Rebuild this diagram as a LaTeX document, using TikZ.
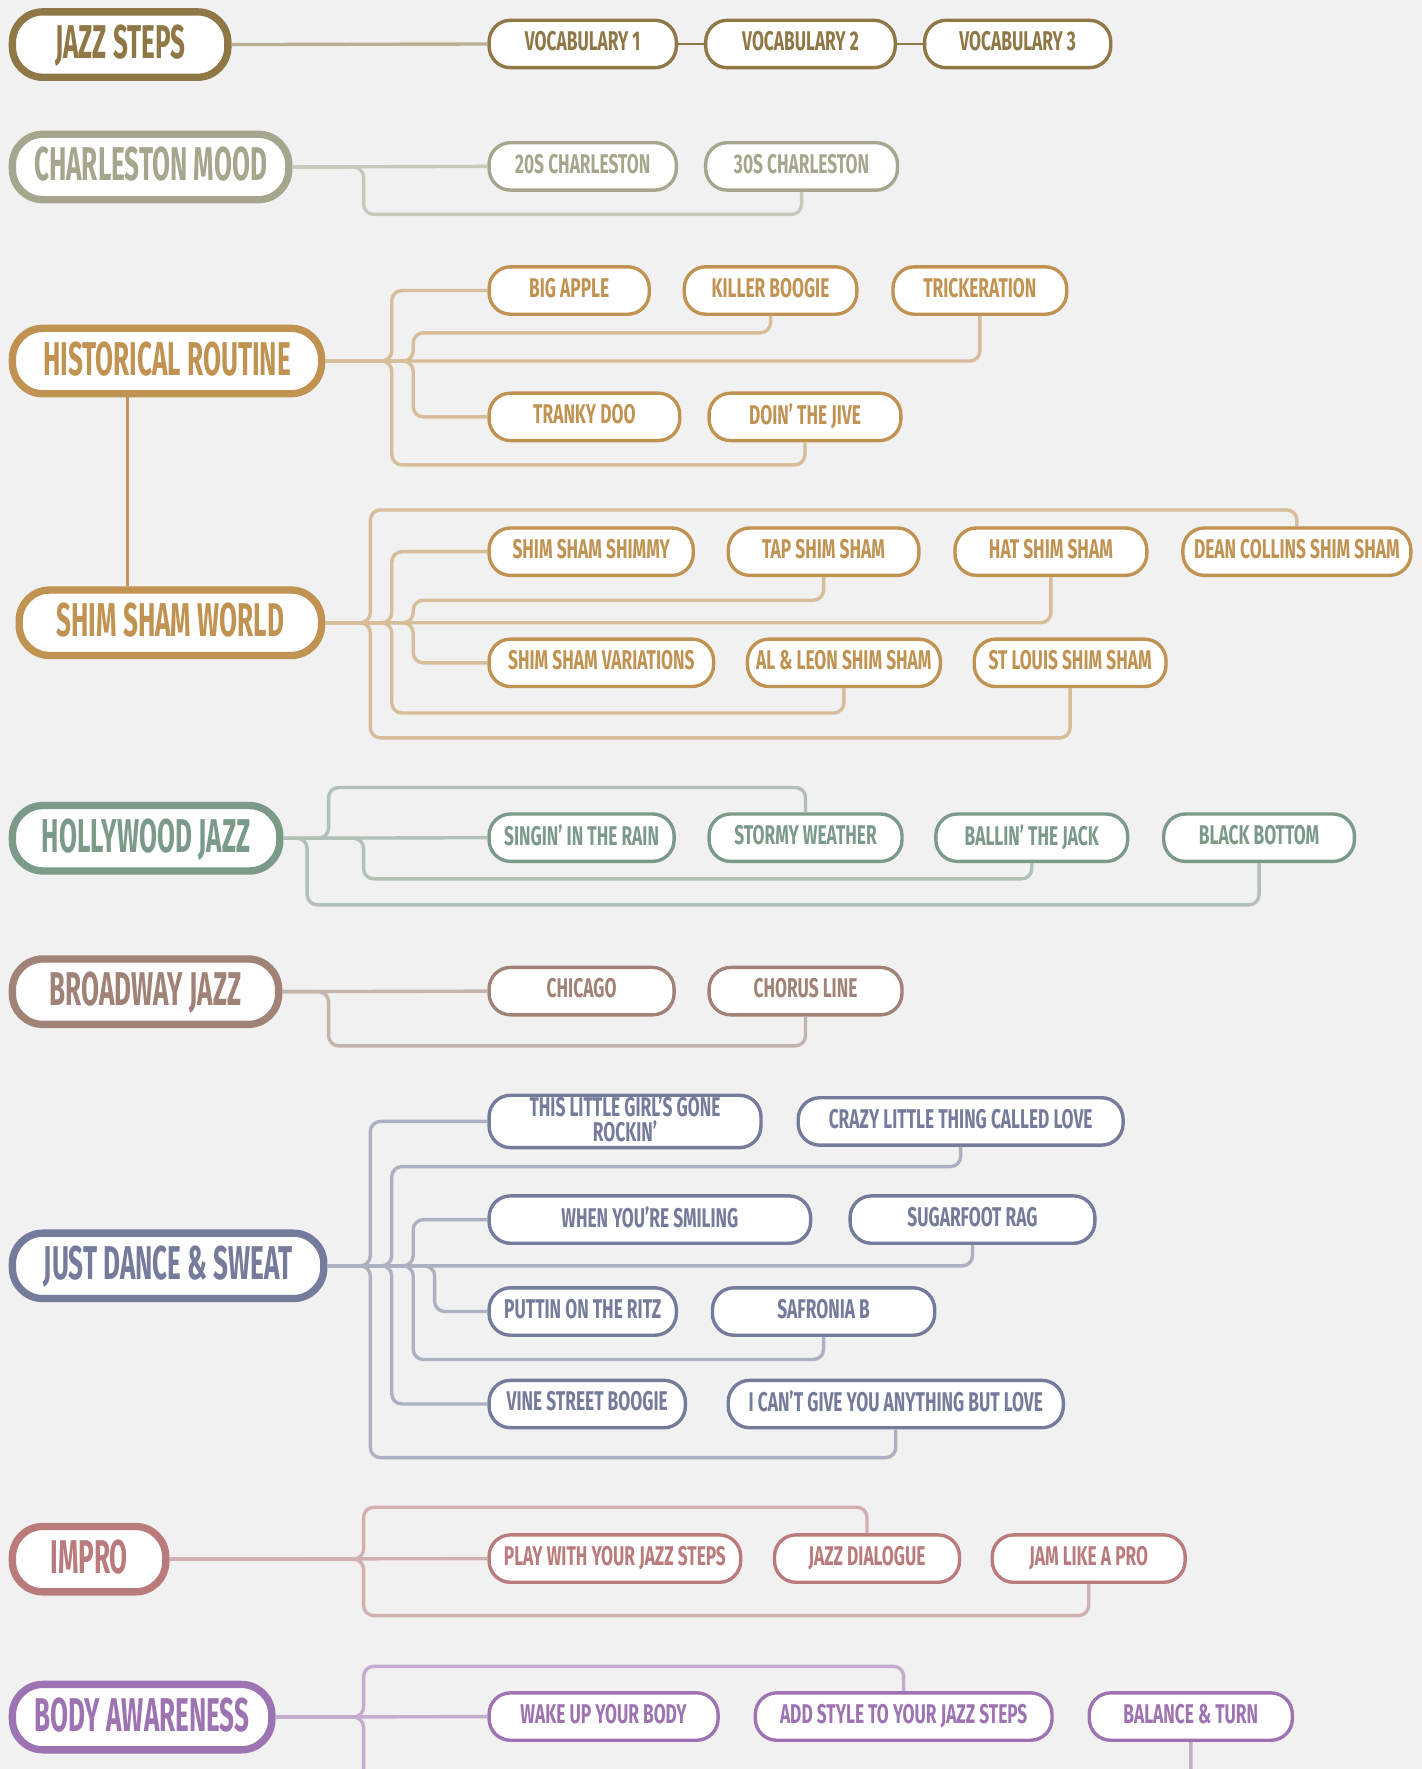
\documentclass[tikz,border=0pt]{standalone}
\usepackage{fontspec}
\newfontfamily\bebas{Fira Sans}[FakeStretch=0.64]
\newfontfamily\bebasbig{Fira Sans}[FakeStretch=0.55]
\usetikzlibrary{positioning}

\definecolor{paper}{HTML}{F1F1F1}
\definecolor{jazzcol}{HTML}{8F7746}
\definecolor{charlcol}{HTML}{A6A68F}
\definecolor{histcol}{HTML}{C19352}
\definecolor{hollycol}{HTML}{7C9A89}
\definecolor{broadcol}{HTML}{A08277}
\definecolor{justcol}{HTML}{757B9B}
\definecolor{improcol}{HTML}{B97B7C}
\definecolor{bodycol}{HTML}{9D73B1}

\tikzset{
  topic/.style={draw=#1, fill=white, line width=6.5pt, rounded corners=27pt,
    minimum height=58, inner sep=0pt, text depth=5pt, text=#1,
    font=\bebasbig\bfseries\fontsize{42}{42}\selectfont},
  leaf/.style={draw=#1, fill=white, line width=3pt, rounded corners=19pt,
    minimum height=42, inner sep=0pt, text depth=5pt, text=#1, align=center,
    font=\bebas\bfseries\fontsize{24}{23}\selectfont},
  link/.style={draw=#1!55!paper, line width=3pt, rounded corners=9pt},
  chain/.style={draw=#1, line width=2pt},
}

\begin{document}
\begin{tikzpicture}[x=1pt, y=-1pt]
  \useasboundingbox (0,0) rectangle (1260,1568);
  \fill[paper] (0,0) rectangle (1260,1568);
  \clip (0,0) rectangle (1260,1568);

  % jazz steps
  \node[topic=jazzcol, minimum width=191] (jazz) at (106.5,39.5) {JAZZ STEPS};
  \node[leaf=jazzcol, minimum width=166] (voc1) at (516.5,39) {VOCABULARY 1};
  \node[leaf=jazzcol, minimum width=168] (voc2) at (709.5,39) {VOCABULARY 2};
  \node[leaf=jazzcol, minimum width=165] (voc3) at (902,39) {VOCABULARY 3};
  \draw[link=jazzcol] (jazz.east) -- (voc1.west);
  \draw[chain=jazzcol] (voc1.east) -- (voc2.west);
  \draw[chain=jazzcol] (voc2.east) -- (voc3.west);

  % charleston mood
  \node[topic=charlcol, minimum width=245] (charl) at (133.5,148) {CHARLESTON MOOD};
  \node[leaf=charlcol, minimum width=166] (c20) at (516.5,147.5) {20S CHARLESTON};
  \node[leaf=charlcol, minimum width=170] (c30) at (710.5,147.5) {30S CHARLESTON};
  \draw[link=charlcol] (charl.east) -- (c20.west);
  \draw[link=charlcol] (charl.east) -- ++(63,0) -- ++(0,42) -| (c30.south);

  % historical routine
  \node[topic=histcol, minimum width=274] (hist) at (148,320) {HISTORICAL ROUTINE};
  \node[leaf=histcol, minimum width=142] (bigapple) at (504.5,257.5) {BIG APPLE};
  \node[leaf=histcol, minimum width=153] (killer) at (683,257.5) {KILLER BOOGIE};
  \node[leaf=histcol, minimum width=154] (trick) at (868.5,257.5) {TRICKERATION};
  \node[leaf=histcol, minimum width=169] (tranky) at (518,369.5) {TRANKY DOO};
  \node[leaf=histcol, minimum width=170] (doin) at (713.5,369.5) {DOIN’ THE JIVE};
  \draw[link=histcol] (hist.east) -| (trick.south);
  \draw[link=histcol] (hist.east) -- ++(59,0) |- (bigapple.west);
  \draw[link=histcol] (hist.east) -- ++(59,0) -- ++(0,92) -| (doin.south);
  \draw[link=histcol] (hist.east) -- ++(78,0) -- ++(0,-25) -| (killer.south);
  \draw[link=histcol] (hist.east) -- ++(78,0) |- (tranky.west);

  % shim sham world
  \node[topic=histcol, minimum width=268] (shim) at (151,552) {SHIM SHAM WORLD};
  \draw[chain=histcol] ([xshift=-35pt]hist.south) -- ([xshift=-38pt]shim.north);
  \node[leaf=histcol, minimum width=181] (shimmy) at (524,489) {SHIM SHAM SHIMMY};
  \node[leaf=histcol, minimum width=169] (tap) at (730,489) {TAP SHIM SHAM};
  \node[leaf=histcol, minimum width=170] (hat) at (931.5,489) {HAT SHIM SHAM};
  \node[leaf=histcol, minimum width=202] (dean) at (1149.5,489) {DEAN COLLINS SHIM SHAM};
  \node[leaf=histcol, minimum width=199] (variations) at (533,587.5) {SHIM SHAM VARIATIONS};
  \node[leaf=histcol, minimum width=171] (alleon) at (748,587.5) {AL \& LEON SHIM SHAM};
  \node[leaf=histcol, minimum width=170] (stlouis) at (948.5,587.5) {ST LOUIS SHIM SHAM};
  \draw[link=histcol] (shim.east) -| (hat.south);
  \draw[link=histcol] (shim.east) -- ++(40,0) -- ++(0,-100) -| (dean.north);
  \draw[link=histcol] (shim.east) -- ++(40,0) -- ++(0,102) -| (stlouis.south);
  \draw[link=histcol] (shim.east) -- ++(59,0) |- (shimmy.west);
  \draw[link=histcol] (shim.east) -- ++(59,0) -- ++(0,80) -| (alleon.south);
  \draw[link=histcol] (shim.east) -- ++(78,0) -- ++(0,-20) -| (tap.south);
  \draw[link=histcol] (shim.east) -- ++(78,0) |- (variations.west);

  % hollywood jazz
  \node[topic=hollycol, minimum width=237] (holly) at (129.5,743) {HOLLYWOOD JAZZ};
  \node[leaf=hollycol, minimum width=164] (singin) at (515.5,742.5) {SINGIN’ IN THE RAIN};
  \node[leaf=hollycol, minimum width=171] (stormy) at (714,742.5) {STORMY WEATHER};
  \node[leaf=hollycol, minimum width=170] (ballin) at (914.5,742.5) {BALLIN’ THE JACK};
  \node[leaf=hollycol, minimum width=169] (black) at (1116,742.5) {BLACK BOTTOM};
  \draw[link=hollycol] (holly.east) -- (singin.west);
  \draw[link=hollycol] (holly.east) -- ++(40,0) -- ++(0,-45) -| (stormy.north);
  \draw[link=hollycol] (holly.east) -- ++(71,0) -- ++(0,36) -| (ballin.south);
  \draw[link=hollycol] (holly.east) -- ++(21,0) -- ++(0,59) -| (black.south);

  % broadway jazz
  \node[topic=broadcol, minimum width=236] (broad) at (129,879) {BROADWAY JAZZ};
  \node[leaf=broadcol, minimum width=164] (chicago) at (515.5,878.5) {CHICAGO};
  \node[leaf=broadcol, minimum width=171] (chorus) at (714,878.5) {CHORUS LINE};
  \draw[link=broadcol] (broad.east) -- (chicago.west);
  \draw[link=broadcol] (broad.east) -- ++(41,0) -- ++(0,48) -| (chorus.south);

  % just dance & sweat
  \node[topic=justcol, minimum width=276] (just) at (149,1122) {JUST DANCE \& SWEAT};
  \node[leaf=justcol, minimum width=241] (rockin) at (554,994) {THIS LITTLE GIRL’S GONE\\ROCKIN’};
  \node[leaf=justcol, minimum width=288] (crazy) at (851.5,994) {CRAZY LITTLE THING CALLED LOVE};
  \node[leaf=justcol, minimum width=285] (smiling) at (576,1081) {WHEN YOU’RE SMILING};
  \node[leaf=justcol, minimum width=217] (sugar) at (862,1081) {SUGARFOOT RAG};
  \node[leaf=justcol, minimum width=166] (ritz) at (516.5,1162.5) {PUTTIN ON THE RITZ};
  \node[leaf=justcol, minimum width=197] (safronia) at (730,1162.5) {SAFRONIA B};
  \node[leaf=justcol, minimum width=174] (vine) at (520.5,1244.5) {VINE STREET BOOGIE};
  \node[leaf=justcol, minimum width=297] (cant) at (794,1244.5) {I CAN’T GIVE YOU ANYTHING BUT LOVE};
  \draw[link=justcol] (just.east) -| (sugar.south);
  \draw[link=justcol] (just.east) -- ++(38,0) |- (rockin.west);
  \draw[link=justcol] (just.east) -- ++(38,0) -- ++(0,170) -| (cant.south);
  \draw[link=justcol] (just.east) -- ++(57,0) -- ++(0,-88) -| (crazy.south);
  \draw[link=justcol] (just.east) -- ++(57,0) |- (vine.west);
  \draw[link=justcol] (just.east) -- ++(76,0) |- (smiling.west);
  \draw[link=justcol] (just.east) -- ++(76,0) -- ++(0,83) -| (safronia.south);
  \draw[link=justcol] (just.east) -- ++(95,0) |- (ritz.west);

  % impro
  \node[topic=improcol, minimum width=136] (impro) at (79,1382) {IMPRO};
  \node[leaf=improcol, minimum width=223] (play) at (545,1381.5) {PLAY WITH YOUR JAZZ STEPS};
  \node[leaf=improcol, minimum width=164] (dialogue) at (768.5,1381.5) {JAZZ DIALOGUE};
  \node[leaf=improcol, minimum width=171] (jam) at (965,1381.5) {JAM LIKE A PRO};
  \draw[link=improcol] (impro.east) -- (play.west);
  \draw[link=improcol] (impro.east) -- ++(172,0) -- ++(0,-46) -| (dialogue.north);
  \draw[link=improcol] (impro.east) -- ++(172,0) -- ++(0,50) -| (jam.south);

  % body awareness
  \node[topic=bodycol, minimum width=230] (body) at (126,1522) {BODY AWARENESS};
  \node[leaf=bodycol, minimum width=203] (wake) at (535,1521.5) {WAKE UP YOUR BODY};
  \node[leaf=bodycol, minimum width=263] (addstyle) at (801,1521.5) {ADD STYLE TO YOUR JAZZ STEPS};
  \node[leaf=bodycol, minimum width=180] (balance) at (1055.5,1521.5) {BALANCE \& TURN};
  \draw[link=bodycol] (body.east) -- (wake.west);
  \draw[link=bodycol] (body.east) -- ++(78,0) -- ++(0,-45) -| (addstyle.north);
  \draw[link=bodycol] (body.east) -- ++(78,0) -- ++(0,70) -| (balance.south);
\end{tikzpicture}
\end{document}
